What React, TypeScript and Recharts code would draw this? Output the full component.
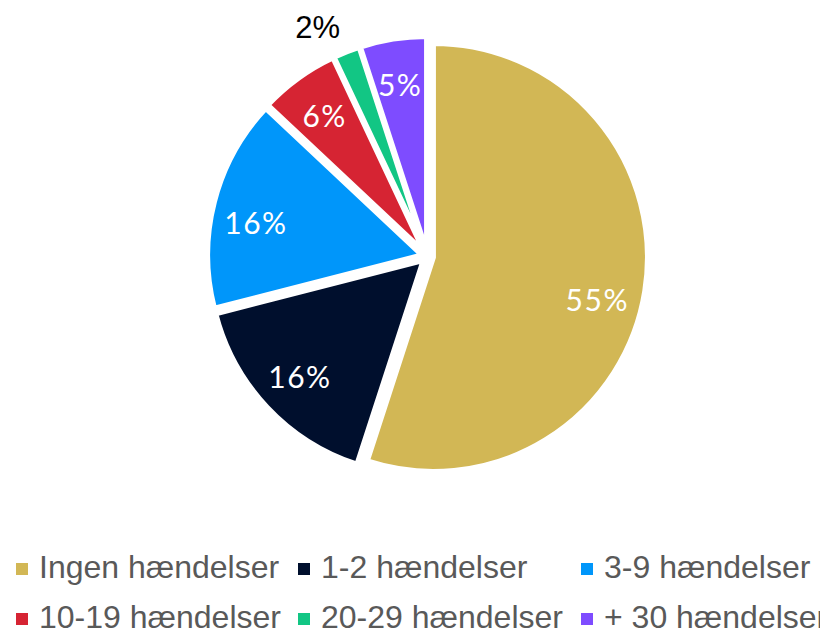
import React from "react";
import { PieChart, Pie, Cell, Sector, Legend } from "recharts";

const categories = [
  "Ingen hændelser",
  "1-2 hændelser",
  "3-9 hændelser",
  "10-19 hændelser",
  "20-29 hændelser",
  "+ 30 hændelser",
];
const shares = [55, 16, 16, 6, 2, 5];
const colors = ["#D2B755", "#000F2D", "#0096FA", "#D62433", "#12C684", "#7E4CFF"];

const data = categories.map((name, i) => ({ name, value: shares[i] }));

const RAD = Math.PI / 180;
const EXPLODE = 6;
const LABEL_NUDGE = [-5, 0, 3, 0, 4, 0];

const ExplodedSector = (props: any) => {
  const { cx, cy, midAngle } = props;
  const dx = EXPLODE * Math.cos(-midAngle * RAD);
  const dy = EXPLODE * Math.sin(-midAngle * RAD);
  return <Sector {...props} cx={cx + dx} cy={cy + dy} stroke="#ffffff" strokeWidth={5} />;
};

const renderLabel = (props: any) => {
  const { cx, cy, midAngle, index, value } = props;
  const outside = value < 3;
  const r = outside ? 254 : 175;
  const a = (midAngle + LABEL_NUDGE[index]) * RAD;
  const x = cx + r * Math.cos(-a);
  const y = cy + r * Math.sin(-a);
  return (
    <text
      x={x}
      y={y}
      textAnchor="middle"
      dominantBaseline="central"
      fill={outside ? "#000000" : "#ffffff"}
      fontFamily={outside ? "'Liberation Sans', Arial, sans-serif" : "Lato, sans-serif"}
      fontSize={outside ? 31 : 30}
      letterSpacing={outside ? 0 : 1.5}
    >
      {`${value}%`}
    </text>
  );
};

const colX = [8, 290, 573];
const LegendContent = () => (
  <svg width={812} height={84} style={{ display: "block" }}>
    {categories.map((c, i) => {
      const col = i % 3;
      const row = Math.floor(i / 3);
      const x = colX[col];
      const y = row * 50;
      return (
        <g key={c}>
          <rect x={x} y={y + 15} width={12} height={12} fill={colors[i]} />
          <text
            x={x + 23}
            y={y + 30}
            fill="#595959"
            fontFamily="'Liberation Sans', Arial, sans-serif"
            fontSize={32}
          >
            {c}
          </text>
        </g>
      );
    })}
  </svg>
);

export default function App() {
  return (
    <PieChart width={812} height={624} margin={{ top: 0, right: 0, bottom: 0, left: 0 }}>
      <Pie
        data={data}
        dataKey="value"
        nameKey="name"
        cx={419.5}
        cy={248.5}
        outerRadius={214}
        startAngle={90}
        endAngle={-270}
        isAnimationActive={false}
        shape={ExplodedSector}
        label={renderLabel}
        labelLine={false}
        stroke="#ffffff"
        strokeWidth={5}
      >
        {data.map((d, i) => (
          <Cell key={d.name} fill={colors[i]} />
        ))}
      </Pie>
      <Legend
        verticalAlign="bottom"
        content={<LegendContent />}
        wrapperStyle={{ position: "absolute", top: 540, left: 0, width: 812, height: 84 }}
      />
    </PieChart>
  );
}
